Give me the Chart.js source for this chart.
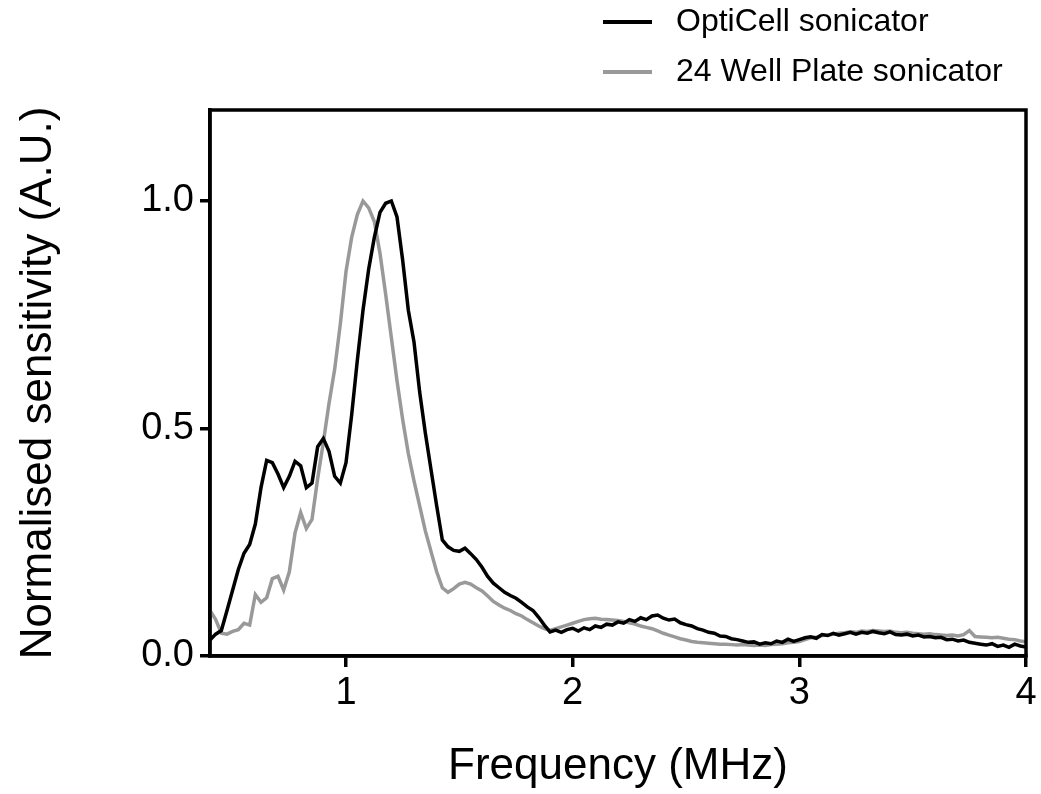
<!DOCTYPE html>
<html lang="en">
<head>
    <meta charset="UTF-8">
    <title>Normalised sensitivity vs frequency</title>
    <script src="https://cdn.jsdelivr.net/npm/chart.js@4"></script>
    <style>
        html, body { margin: 0; padding: 0; background: #fff; }
    </style>
</head>
<body>
    <canvas id="grafico" width="1041" height="794"></canvas>

    <script>
        // frequency (MHz), every 0.025 MHz
        const frequencias = [
            0.400, 0.425, 0.450, 0.475, 0.500, 0.525, 0.550, 0.575, 0.600, 0.625,
            0.650, 0.675, 0.700, 0.725, 0.750, 0.775, 0.800, 0.825, 0.850, 0.875,
            0.900, 0.925, 0.950, 0.975, 1.000, 1.025, 1.050, 1.075, 1.100, 1.125,
            1.150, 1.175, 1.200, 1.225, 1.250, 1.275, 1.300, 1.325, 1.350, 1.375,
            1.400, 1.425, 1.450, 1.475, 1.500, 1.525, 1.550, 1.575, 1.600, 1.625,
            1.650, 1.675, 1.700, 1.725, 1.750, 1.775, 1.800, 1.825, 1.850, 1.875,
            1.900, 1.925, 1.950, 1.975, 2.000, 2.025, 2.050, 2.075, 2.100, 2.125,
            2.150, 2.175, 2.200, 2.225, 2.250, 2.275, 2.300, 2.325, 2.350, 2.375,
            2.400, 2.425, 2.450, 2.475, 2.500, 2.525, 2.550, 2.575, 2.600, 2.625,
            2.650, 2.675, 2.700, 2.725, 2.750, 2.775, 2.800, 2.825, 2.850, 2.875,
            2.900, 2.925, 2.950, 2.975, 3.000, 3.025, 3.050, 3.075, 3.100, 3.125,
            3.150, 3.175, 3.200, 3.225, 3.250, 3.275, 3.300, 3.325, 3.350, 3.375,
            3.400, 3.425, 3.450, 3.475, 3.500, 3.525, 3.550, 3.575, 3.600, 3.625,
            3.650, 3.675, 3.700, 3.725, 3.750, 3.775, 3.800, 3.825, 3.850, 3.875,
            3.900, 3.925, 3.950, 3.975, 4.000
        ];

        const opticell = [
            0.035, 0.048, 0.056, 0.100, 0.145, 0.190, 0.226, 0.245, 0.290, 0.370,
            0.430, 0.425, 0.400, 0.370, 0.395, 0.428, 0.418, 0.370, 0.380, 0.460,
            0.478, 0.450, 0.395, 0.380, 0.425, 0.530, 0.650, 0.760, 0.850, 0.920,
            0.975, 0.995, 1.000, 0.965, 0.870, 0.760, 0.690, 0.580, 0.490, 0.410,
            0.330, 0.255, 0.240, 0.232, 0.230, 0.237, 0.225, 0.212, 0.195, 0.175,
            0.160, 0.150, 0.140, 0.133, 0.127, 0.118, 0.108, 0.100, 0.085, 0.068,
            0.053, 0.057, 0.052, 0.058, 0.061, 0.055, 0.062, 0.058, 0.066, 0.063,
            0.070, 0.068, 0.075, 0.072, 0.080, 0.076, 0.084, 0.080, 0.088, 0.090,
            0.083, 0.079, 0.081, 0.073, 0.069, 0.066, 0.060, 0.057, 0.052, 0.050,
            0.044, 0.043, 0.038, 0.036, 0.033, 0.030, 0.031, 0.026, 0.029, 0.027,
            0.033, 0.030, 0.037, 0.032, 0.036, 0.040, 0.042, 0.039, 0.047, 0.045,
            0.050, 0.046, 0.049, 0.052, 0.048, 0.052, 0.050, 0.054, 0.051, 0.049,
            0.053, 0.047, 0.046, 0.048, 0.044, 0.046, 0.042, 0.043, 0.040, 0.041,
            0.036, 0.037, 0.033, 0.035, 0.030, 0.028, 0.026, 0.024, 0.027, 0.021,
            0.024, 0.019, 0.026, 0.022, 0.020
        ];

        const wellPlate = [
            0.100, 0.080, 0.050, 0.048, 0.054, 0.058, 0.072, 0.068, 0.135, 0.118,
            0.128, 0.170, 0.175, 0.145, 0.185, 0.270, 0.315, 0.280, 0.300, 0.390,
            0.470, 0.555, 0.630, 0.730, 0.845, 0.920, 0.970, 1.000, 0.985, 0.955,
            0.885, 0.795, 0.700, 0.605, 0.520, 0.445, 0.385, 0.330, 0.275, 0.230,
            0.185, 0.150, 0.140, 0.148, 0.158, 0.162, 0.158, 0.150, 0.143, 0.132,
            0.120, 0.112, 0.105, 0.100, 0.093, 0.088, 0.080, 0.073, 0.066, 0.060,
            0.056, 0.060, 0.064, 0.068, 0.072, 0.076, 0.080, 0.082, 0.083, 0.081,
            0.080, 0.079, 0.078, 0.076, 0.073, 0.070, 0.066, 0.063, 0.060, 0.055,
            0.050, 0.046, 0.042, 0.038, 0.035, 0.032, 0.030, 0.029, 0.028, 0.027,
            0.026, 0.026, 0.025, 0.024, 0.025, 0.024, 0.023, 0.024, 0.023, 0.025,
            0.026, 0.027, 0.029, 0.030, 0.032, 0.036, 0.040, 0.041, 0.045, 0.046,
            0.048, 0.050, 0.051, 0.053, 0.052, 0.055, 0.054, 0.056, 0.055, 0.054,
            0.055, 0.052, 0.051, 0.052, 0.050, 0.049, 0.048, 0.049, 0.047, 0.046,
            0.045, 0.046, 0.044, 0.047, 0.056, 0.043, 0.042, 0.041, 0.040, 0.041,
            0.039, 0.037, 0.036, 0.033, 0.031
        ];

        const nomesSeries = ['OptiCell sonicator', '24 Well Plate sonicator'];
        const xTicks = [1, 2, 3, 4];
        const yTicks = [0, 0.5, 1.0];

        const fonte = '"Liberation Sans", Arial, sans-serif';

        function pontos(valores) {
            return frequencias.map((f, i) => ({ x: f, y: valores[i] }));
        }

        // box around the plot + legend in the top right corner
        const moldura = {
            id: 'moldura',
            afterDraw(chart) {
                const { ctx, chartArea: a } = chart;
                ctx.save();
                ctx.strokeStyle = '#000';
                ctx.lineWidth = 3.5;
                ctx.strokeRect(a.left, a.top, a.right - a.left, a.bottom - a.top);

                ctx.font = '32px ' + fonte;
                ctx.textBaseline = 'middle';
                ctx.textAlign = 'left';
                chart.data.datasets.forEach((ds, i) => {
                    const y = 22 + i * 50;
                    ctx.strokeStyle = ds.borderColor;
                    ctx.lineWidth = 4;
                    ctx.beginPath();
                    ctx.moveTo(603, y);
                    ctx.lineTo(652, y);
                    ctx.stroke();
                    ctx.fillStyle = '#000';
                    ctx.fillText(ds.label, 676, y);
                });
                ctx.restore();
            }
        };

        new Chart(document.getElementById('grafico'), {
            type: 'line',
            data: {
                datasets: [{
                    label: nomesSeries[0],
                    data: pontos(opticell),
                    borderColor: '#000000',
                    borderWidth: 3.5,
                    pointRadius: 0,
                    tension: 0
                }, {
                    label: nomesSeries[1],
                    data: pontos(wellPlate),
                    borderColor: '#999999',
                    borderWidth: 3.5,
                    pointRadius: 0,
                    tension: 0
                }]
            },
            options: {
                responsive: false,
                animation: false,
                layout: { padding: { top: 110, right: 15, left: 0, bottom: 0 } },
                plugins: {
                    legend: { display: false },
                    tooltip: { enabled: false }
                },
                scales: {
                    x: {
                        type: 'linear',
                        min: 0.4,
                        max: 4,
                        afterBuildTicks: s => { s.ticks = xTicks.map(v => ({ value: v })); },
                        afterFit: s => { s.height = 138; },
                        grid: { drawOnChartArea: false, drawTicks: true, tickLength: 11, lineWidth: 3.5, color: '#000' },
                        border: { display: true, color: '#000', width: 3.5 },
                        ticks: {
                            color: '#000',
                            font: { size: 38, family: fonte },
                            padding: 4,
                            maxRotation: 0,
                            autoSkip: false,
                            callback: v => String(v)
                        },
                        title: {
                            display: true,
                            text: 'Frequency (MHz)',
                            color: '#000',
                            font: { size: 44, family: fonte },
                            padding: { top: 0, bottom: 1 }
                        }
                    },
                    y: {
                        min: 0,
                        max: 1.2,
                        afterBuildTicks: s => { s.ticks = yTicks.map(v => ({ value: v })); },
                        afterFit: s => { s.width = 210; },
                        grid: { drawOnChartArea: false, drawTicks: true, tickLength: 10, lineWidth: 3.5, color: '#000' },
                        border: { display: true, color: '#000', width: 3.5 },
                        ticks: {
                            color: '#000',
                            font: { size: 38, family: fonte },
                            padding: 6,
                            callback: v => v.toFixed(1)
                        },
                        title: {
                            display: true,
                            text: 'Normalised sensitivity (A.U.)',
                            color: '#000',
                            font: { size: 44, family: fonte },
                            padding: { top: 12, bottom: 0 }
                        }
                    }
                }
            },
            plugins: [moldura]
        });
    </script>
</body>
</html>
